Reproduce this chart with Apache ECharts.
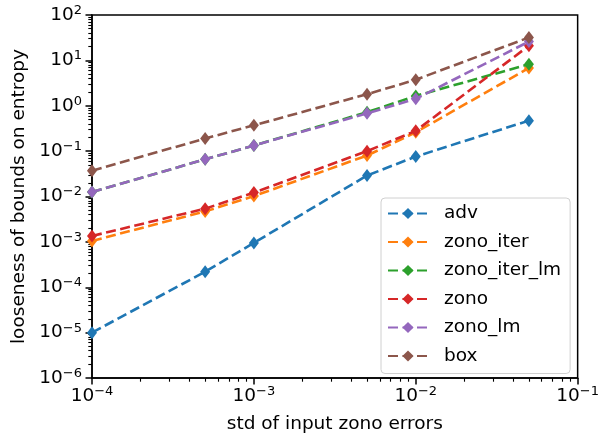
<!DOCTYPE html>
<html>
<head>
<meta charset="utf-8">
<script src="https://cdn.jsdelivr.net/npm/echarts@6/dist/echarts.min.js"></script>
<style>html,body{margin:0;padding:0;background:#fff}#c{width:602px;height:439px}</style>
</head>
<body>
<div id="c"></div>
<script>
const xValues = [1e-4, 5e-4, 1e-3, 5e-3, 1e-2, 5e-2];
const adv = [1.0e-5, 2.2e-4, 9.5e-4, 0.029, 0.076, 0.47];
const zonoIter = [1.05e-3, 4.7e-3, 0.0102, 0.08, 0.26, 6.8];
const zonoIterLm = [0.0125, 0.066, 0.133, 0.72, 1.65, 8.2];
const zono = [1.35e-3, 5.4e-3, 0.0122, 0.10, 0.28, 21];
const zonoLm = [0.0125, 0.066, 0.133, 0.68, 1.42, 26];
const box = [0.037, 0.19, 0.37, 1.8, 3.75, 32];
const seriesNames = ['adv', 'zono_iter', 'zono_iter_lm', 'zono', 'zono_lm', 'box'];
const seriesData = [adv, zonoIter, zonoIterLm, zono, zonoLm, box];
const colors = ['#1f77b4', '#ff7f0e', '#2ca02c', '#d62728', '#9467bd', '#8c564b'];
const xMajorExp = [-4, -3, -2, -1];
const yMajorExp = [-6, -5, -4, -3, -2, -1, 0, 1, 2];

function minorTicks(lo, hi) {
  const out = [];
  for (let e = lo; e < hi; e++) for (let m = 2; m <= 9; m++) out.push(m * Math.pow(10, e));
  return out;
}
const FONT = 'DejaVu Sans';
const FS = 18.5;
const rich = {
  b: {fontFamily: FONT, fontSize: FS, color: '#000'},
  s: {fontFamily: FONT, fontSize: 13, color: '#000', verticalAlign: 'bottom', padding: [0, 0, 9, 0]}
};
function fmt(v) {
  const e = Math.round(Math.log10(v));
  return '{b|10}{s|' + (e < 0 ? '\u2212' + (-e) : e) + '}';
}

const chart = echarts.init(document.getElementById('c'), null, {renderer: 'canvas'});
const series = seriesNames.map((n, i) => ({
  name: n,
  type: 'line',
  data: xValues.map((x, j) => [x, seriesData[i][j]]),
  symbol: 'diamond',
  symbolSize: [10, 13],
  lineStyle: {color: colors[i], width: 2.6, type: [10, 4.5]},
  itemStyle: {color: colors[i]},
  xAxisIndex: 0, yAxisIndex: 0,
  z: 3 + i
}));

chart.setOption({
  animation: false,
  backgroundColor: '#fff',
  grid: {left: 92, right: 21, top: 15, bottom: 55, show: true, borderColor: '#000', borderWidth: 1.5, backgroundColor: 'transparent'},
  legend: {
    orient: 'vertical', left: 381, top: 198,
    data: seriesNames,
    itemWidth: 40, itemHeight: 14, itemGap: 9.5,
    padding: [6, 9, 8, 6],
    backgroundColor: '#fff', borderColor: '#d0d0d0', borderWidth: 1, borderRadius: 4,
    textStyle: {fontFamily: FONT, fontSize: FS, color: '#000', padding: [0, 0, 0, 11], lineHeight: 19}
  },
  xAxis: [
    {type: 'log', logBase: 10, min: 1e-4, max: 1e-1, splitNumber: 3, gridIndex: 0,
     name: 'std of input zono errors', nameLocation: 'middle', nameGap: 37,
     nameTextStyle: {fontFamily: FONT, fontSize: FS, color: '#000'},
     axisLine: {show: true, lineStyle: {color: '#000', width: 1.5}},
     axisTick: {show: true, inside: false, length: 6.5, lineStyle: {color: '#000', width: 1.5},
                customValues: xMajorExp.map(e => Math.pow(10, e))},
     axisLabel: {margin: 7, formatter: fmt, rich: rich,
                 customValues: xMajorExp.map(e => Math.pow(10, e))},
     splitLine: {show: false}, minorTick: {show: false}},
    {type: 'log', logBase: 10, min: 1e-4, max: 1e-1, gridIndex: 0, position: 'bottom',
     axisLine: {show: false},
     axisTick: {show: true, inside: false, length: 3.7, lineStyle: {color: '#000', width: 1.1},
                customValues: minorTicks(-4, -1)},
     axisLabel: {show: false}, splitLine: {show: false}}
  ],
  yAxis: [
    {type: 'log', logBase: 10, min: 1e-6, max: 1e2, splitNumber: 8, gridIndex: 0,
     name: 'looseness of bounds on entropy', nameLocation: 'middle', nameGap: 56,
     nameTextStyle: {fontFamily: FONT, fontSize: FS, color: '#000'},
     axisLine: {show: true, lineStyle: {color: '#000', width: 1.5}},
     axisTick: {show: true, inside: false, length: 6.5, lineStyle: {color: '#000', width: 1.5},
                customValues: yMajorExp.map(e => Math.pow(10, e))},
     axisLabel: {margin: 10, formatter: fmt, rich: rich,
                 customValues: yMajorExp.map(e => Math.pow(10, e))},
     splitLine: {show: false}, minorTick: {show: false}},
    {type: 'log', logBase: 10, min: 1e-6, max: 1e2, gridIndex: 0, position: 'left',
     axisLine: {show: false},
     axisTick: {show: true, inside: false, length: 3.7, lineStyle: {color: '#000', width: 1.1},
                customValues: minorTicks(-6, 2)},
     axisLabel: {show: false}, splitLine: {show: false}}
  ],
  series: series
});
</script>
</body>
</html>
